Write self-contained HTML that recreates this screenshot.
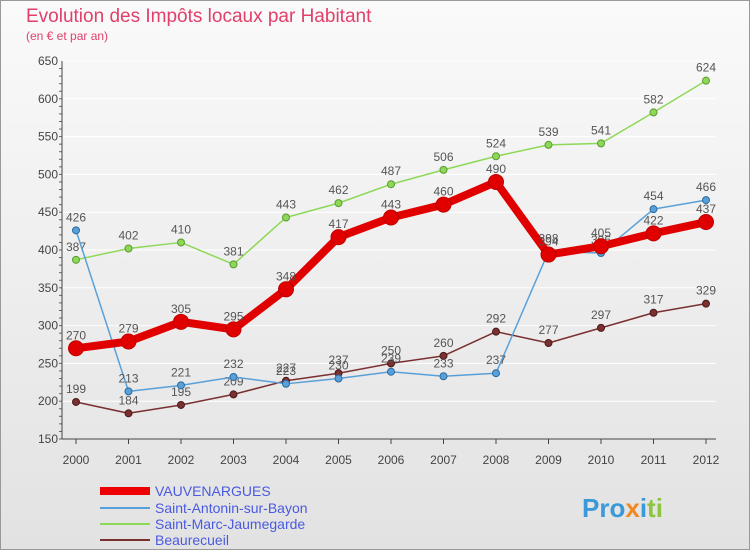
<!DOCTYPE html>
<html><head><meta charset="utf-8"><style>
body{margin:0;width:750px;height:550px;overflow:hidden;font-family:"Liberation Sans",sans-serif}
</style></head><body>
<svg width="750" height="550" xmlns="http://www.w3.org/2000/svg">
<defs><linearGradient id="bg" x1="0" y1="0" x2="0" y2="1"><stop offset="0" stop-color="#fafafa"/><stop offset="1" stop-color="#e2e2e2"/></linearGradient></defs>
<rect x="0.5" y="0.5" width="749" height="549" fill="url(#bg)" stroke="#999"/>
<text x="26" y="22" font-size="19" fill="#e0406a">Evolution des Impôts locaux par Habitant</text>
<text x="26" y="40" font-size="12" fill="#e0406a">(en € et par an)</text>
<g id="axes"></g><g id="series"></g>
<g font-size="14">
<line x1="100" y1="491" x2="150" y2="491" stroke="#e00" stroke-width="8"/>
<text x="155" y="496" fill="#4a5ae0">VAUVENARGUES</text>
<line x1="100" y1="508" x2="150" y2="508" stroke="#5aa0d8" stroke-width="2"/>
<text x="155" y="513" fill="#4a5ae0">Saint-Antonin-sur-Bayon</text>
<line x1="100" y1="524" x2="150" y2="524" stroke="#8ed858" stroke-width="2"/>
<text x="155" y="529" fill="#4a5ae0">Saint-Marc-Jaumegarde</text>
<line x1="100" y1="540" x2="150" y2="540" stroke="#7a3030" stroke-width="2"/>
<text x="155" y="545" fill="#4a5ae0">Beaurecueil</text>
</g>
<text x="582" y="517" font-size="26" font-weight="bold"><tspan fill="#3a9ad9">Pro</tspan><tspan fill="#f08a20">x</tspan><tspan fill="#3a9ad9">i</tspan><tspan fill="#8cc63f">ti</tspan></text>
</svg>
<script>
const years=[2000,2001,2002,2003,2004,2005,2006,2007,2008,2009,2010,2011,2012];
const yTicks=[150,200,250,300,350,400,450,500,550,600,650];
const vauv=[270,279,305,295,348,417,443,460,490,394,405,422,437];
const antonin=[426,213,221,232,223,230,239,233,237,398,396,454,466];
const marc=[387,402,410,381,443,462,487,506,524,539,541,582,624];
const beau=[199,184,195,209,227,237,250,260,292,277,297,317,329];
const NS="http://www.w3.org/2000/svg";
const x=i=>76+i*52.5, y=v=>439-(v-150)*378/500;
function mk(t,a,p){const e=document.createElementNS(NS,t);for(const k in a)e.setAttribute(k,a[k]);p.appendChild(e);return e;}
const ax=document.getElementById('axes'), sg=document.getElementById('series');
yTicks.forEach(v=>{
 const g=mk('line',{x1:62,x2:716,y1:y(v),y2:y(v),stroke:'#fff','stroke-width':1},ax);
 
 
 const t=mk('text',{x:58,y:y(v)+4,'text-anchor':'end','font-size':12,fill:'#444'},ax);t.textContent=v;
 
 
});
for(let v=150;v<650;v+=10){mk('line',{x1:59,x2:62,y1:y(v),y2:y(v),stroke:'#666'},ax);}
mk('line',{x1:62,x2:62,y1:y(650),y2:439,stroke:'#444'},ax);
mk('line',{x1:62,x2:716,y1:439,y2:439,stroke:'#444'},ax);
years.forEach((yr,i)=>{
 mk('line',{x1:x(i),x2:x(i),y1:439,y2:444,stroke:'#444'},ax);
 const t=mk('text',{x:x(i),y:464,'text-anchor':'middle','font-size':12,fill:'#444'},ax);t.textContent=yr;
 
 
});
function series(d,c,w,r,name,stroke){
 const g=mk('g',{},sg);
 
 
 const l=mk('polyline',{points:d.map((v,i)=>x(i)+','+y(v)).join(' '),fill:'none',stroke:c,'stroke-width':w,'stroke-linejoin':'round'},g);
 
 
 d.forEach((v,i)=>{
  const p=mk('circle',{cx:x(i),cy:y(v),r:r,fill:c,stroke:stroke,'stroke-width':1},g);
  
  
  const t=mk('text',{x:x(i),y:y(v)-9,'text-anchor':'middle','font-size':12,fill:'#555'},g);t.textContent=v;
  
  
 });
}
series(beau,'#7a3030',1.5,3.5,'beaurecueil','#4a1a1a');
series(marc,'#8ed858',1.5,3.5,'saint-marc','#5a9a30');
series(antonin,'#5aa0d8',1.5,3.5,'saint-antonin','#2a6aa0');
series(vauv,'#e00000',8,7.5,'vauvenargues','#c00000');
</script>
</body></html>
